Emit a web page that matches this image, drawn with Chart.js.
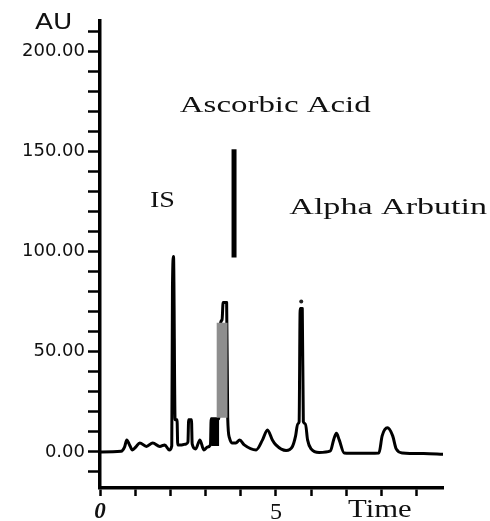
<!DOCTYPE html>
<html>
<head>
<meta charset="utf-8">
<title>HPLC chromatogram</title>
<script src="https://cdn.jsdelivr.net/npm/chart.js@4.4.1/dist/chart.umd.min.js"></script>
<style>
  html, body { margin: 0; padding: 0; background: #fff; }
  #wrap { width: 490px; height: 521px; position: relative; }
</style>
</head>
<body>
<div id="wrap"><canvas id="chrom"></canvas></div>
<script>
// Detector trace: retention time (min) vs absorbance (AU)
const traceTime = [
  0, 0.6, 0.7, 0.76, 0.84, 0.92, 1.02, 1.13, 1.32, 1.5, 1.7, 1.84, 1.97,
  2.04, 2.06, 2.09, 2.135, 2.19, 2.21, 2.32, 2.45, 2.5, 2.52, 2.6, 2.62,
  2.72, 2.84, 2.95, 3.06, 3.14, 3.16, 3.38, 3.41, 3.47, 3.5, 3.6, 3.63, 3.68,
  3.75, 3.86, 3.97, 4.1, 4.44, 4.62, 4.76, 4.9, 5.0, 5.29, 5.47, 5.56, 5.62,
  5.66, 5.69, 5.75, 5.78, 5.84, 5.9, 6.0, 6.23, 6.55, 6.64, 6.72, 6.8,
  6.94, 7.3, 7.93, 8.02, 8.17, 8.32, 8.42, 8.6, 9.2, 9.77
];
const traceAU = [
  0, 0.3, 2.5, 6, 3.5, 1, 2.5, 4.5, 2.7, 4.5, 2.7, 3.5, 1,
  3, 82, 97.5, 16, 16, 3.5, 3.5, 4, 5, 16, 16, 4,
  1.5, 6, 1, 2.5, 3.5, 16.5, 16.5, 62, 66, 74.6, 74.6, 17, 7,
  4.5, 4.5, 6, 3.5, 1, 6, 11, 6, 3.5, 0.7, 2.7, 8, 14,
  15, 71.5, 71.5, 15, 14, 6, 1.5, -0.3, 0.5, 6, 9.3, 6,
  -0.5, -0.7, -0.5, 8, 12, 8, 1.5, -0.5, -0.8, -1.2
];

// Shaded regions under the peaks
const blockTime = [3.16, 3.39];
const blockAU = [16.5, 16.5];
const blockBase = 3;
const shadeTime = [3.31, 3.63];
const shadeAU = [64.5, 64.5];
const shadeBase = 17;

// Ascorbic acid marker bar and the dot over the arbutin peak
const markerTime = [3.81, 3.81];
const markerAU = [97, 151];
const dotTime = [5.72];
const dotAU = [75];

// Peak names and where they sit (min, AU)
const peakNames = ['IS', 'Ascorbic Acid', 'Alpha Arbutin'];
const peakNameTime = [1.42, 2.27, 5.38];
const peakNameAU = [122, 169.5, 118.5];
const peakNameStretch = [1.17, 1.37, 1.42];

const xLabelled = [0, 5];
const yLabelStep = 50;

const pts = (xs, ys) => xs.map((x, i) => ({ x, y: ys[i] }));

function stretchText(ctx, text, x, y, sx, font) {
  ctx.save();
  ctx.font = font;
  ctx.translate(x, y);
  ctx.scale(sx, 1);
  ctx.fillText(text, 0, 0);
  ctx.restore();
}

const chromLabels = {
  id: 'chromLabels',
  afterDraw(chart) {
    const { ctx, chartArea, scales: { x, y } } = chart;
    ctx.save();
    ctx.fillStyle = '#111';
    ctx.textAlign = 'left';
    ctx.textBaseline = 'alphabetic';
    peakNames.forEach((name, i) => {
      stretchText(ctx, name, x.getPixelForValue(peakNameTime[i]), y.getPixelForValue(peakNameAU[i]),
        peakNameStretch[i], '24px "Liberation Serif"');
    });
    stretchText(ctx, 'AU', chartArea.left - 65, chartArea.top + 8, 1.2, '22px "DejaVu Sans"');
    stretchText(ctx, 'Time', chartArea.left + 248, chartArea.bottom + 29, 1.18, '26px "Liberation Serif"');
    ctx.restore();
  }
};

new Chart(document.getElementById('chrom'), {
  type: 'line',
  data: {
    datasets: [
      {
        label: 'shade',
        data: pts(shadeTime, shadeAU),
        borderWidth: 0,
        pointRadius: 0,
        backgroundColor: '#8e8e8e',
        fill: { value: shadeBase }
      },
      {
        label: 'block',
        data: pts(blockTime, blockAU),
        borderWidth: 0,
        pointRadius: 0,
        backgroundColor: '#000',
        fill: { value: blockBase }
      },
      {
        label: 'marker',
        data: pts(markerTime, markerAU),
        borderColor: '#000',
        borderWidth: 5,
        borderCapStyle: 'butt',
        pointRadius: 0,
        fill: false
      },
      {
        label: 'dot',
        data: pts(dotTime, dotAU),
        showLine: false,
        pointRadius: 2,
        pointBackgroundColor: '#222',
        pointBorderWidth: 0
      },
      {
        label: 'trace',
        data: pts(traceTime, traceAU),
        borderColor: '#000',
        borderWidth: 3,
        borderJoinStyle: 'round',
        cubicInterpolationMode: 'monotone',
        pointRadius: 0,
        fill: false
      }
    ]
  },
  options: {
    responsive: true,
    maintainAspectRatio: false,
    animation: false,
    layout: { padding: { top: 21, right: 47, left: 0, bottom: 0 } },
    plugins: { legend: { display: false }, tooltip: { enabled: false } },
    scales: {
      x: {
        type: 'linear',
        min: 0,
        max: 9.75,
        afterFit: s => { s.height = 33; },
        border: { display: true, color: '#000', width: 3.5 },
        grid: { drawOnChartArea: false, drawTicks: true, tickLength: 8, tickWidth: 2.5, tickColor: '#000' },
        ticks: {
          stepSize: 1,
          includeBounds: false,
          autoSkip: false,
          maxRotation: 0,
          padding: 2,
          color: '#111',
          callback: v => xLabelled.includes(v) ? String(v) : '',
          font: ctx => ctx.tick && ctx.tick.value === 0
            ? { family: '"Liberation Serif"', size: 23, weight: 'bold', style: 'italic' }
            : { family: '"Liberation Serif"', size: 24 }
        }
      },
      y: {
        type: 'linear',
        min: -18,
        max: 215,
        afterFit: s => { s.width = 100; },
        border: { display: true, color: '#000', width: 3.5 },
        grid: { drawOnChartArea: false, drawTicks: true, tickLength: 12, tickWidth: 2.5, tickColor: '#000' },
        ticks: {
          stepSize: 10,
          includeBounds: false,
          autoSkip: false,
          padding: 3,
          color: '#111',
          font: { family: '"DejaVu Sans"', size: 18 },
          callback: v => (v >= 0 && v % yLabelStep === 0) ? v.toFixed(2) : ''
        }
      }
    }
  },
  plugins: [chromLabels]
});
</script>
</body>
</html>
